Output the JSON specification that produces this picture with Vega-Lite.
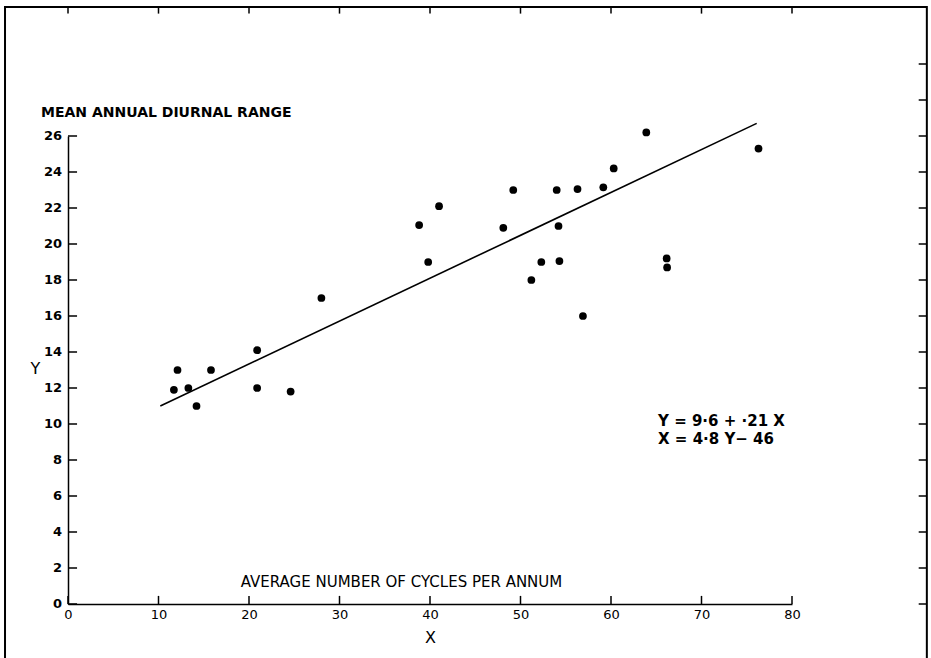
{
  "$schema": "https://vega.github.io/schema/vega-lite/v6.json",
  "width": 724,
  "height": 468,
  "autosize": {"type": "none"},
  "padding": {"left": 68, "top": 136, "right": 139, "bottom": 54},
  "background": "white",
  "config": {
    "view": {"stroke": null},
    "font": "DejaVu Sans",
    "axis": {"grid": false, "domainColor": "black", "tickColor": "black", "labelColor": "black", "titleColor": "black", "domainWidth": 1.5, "labelOverlap": false, "labelFlush": false}
  },
  "datasets": {
    "points": [
      {"x": 11.7, "y": 11.9},
      {"x": 12.1, "y": 13.0},
      {"x": 13.3, "y": 12.0},
      {"x": 14.2, "y": 11.0},
      {"x": 15.8, "y": 13.0},
      {"x": 20.9, "y": 14.1},
      {"x": 20.9, "y": 12.0},
      {"x": 24.6, "y": 11.8},
      {"x": 28.0, "y": 17.0},
      {"x": 38.8, "y": 21.05},
      {"x": 39.8, "y": 19.0},
      {"x": 41.0, "y": 22.1},
      {"x": 48.1, "y": 20.9},
      {"x": 49.2, "y": 23.0},
      {"x": 51.2, "y": 18.0},
      {"x": 52.3, "y": 19.0},
      {"x": 54.0, "y": 23.0},
      {"x": 54.2, "y": 21.0},
      {"x": 54.3, "y": 19.05},
      {"x": 56.3, "y": 23.05},
      {"x": 56.9, "y": 16.0},
      {"x": 59.15, "y": 23.15},
      {"x": 60.3, "y": 24.2},
      {"x": 63.9, "y": 26.2},
      {"x": 66.15, "y": 19.2},
      {"x": 66.2, "y": 18.7},
      {"x": 76.3, "y": 25.3}
    ],
    "fit": [
      {"x": 10.2, "y": 11.0},
      {"x": 76.1, "y": 26.7}
    ],
    "xticks": [
      {"t": 0}, {"t": 10}, {"t": 20}, {"t": 30}, {"t": 40}, {"t": 50}, {"t": 60}, {"t": 70}, {"t": 80}
    ],
    "yticks": [
      {"t": 0}, {"t": 2}, {"t": 4}, {"t": 6}, {"t": 8}, {"t": 10}, {"t": 12}, {"t": 14}, {"t": 16}, {"t": 18}, {"t": 20}, {"t": 22}, {"t": 24}, {"t": 26}
    ],
    "rightticks": [
      {"t": 0}, {"t": 2}, {"t": 4}, {"t": 6}, {"t": 8}, {"t": 10}, {"t": 12}, {"t": 14}, {"t": 16}, {"t": 18}, {"t": 20}, {"t": 22}, {"t": 24}, {"t": 26}, {"t": 28}, {"t": 30}
    ]
  },
  "layer": [
    {
      "data": {"name": "points"},
      "mark": {"type": "point", "filled": true, "shape": "circle", "size": 60, "color": "black", "opacity": 1},
      "encoding": {
        "x": {
          "field": "x", "type": "quantitative",
          "scale": {"domain": [0, 80], "nice": false, "zero": false},
          "axis": {
            "values": [0, 10, 20, 30, 40, 50, 60, 70, 80],
            "ticks": false,
            "labelOverlap": false,
            "labelFlush": false,
            "labelFontSize": 13,
            "labelPadding": 4,
            "title": "X",
            "titleFontSize": 16,
            "titleFontWeight": "normal",
            "titleX": 362,
            "titleY": 33,
            "titleBaseline": "middle"
          }
        },
        "y": {
          "field": "y", "type": "quantitative",
          "scale": {"domain": [0, 26], "nice": false, "zero": false},
          "axis": {
            "values": [0, 2, 4, 6, 8, 10, 12, 14, 16, 18, 20, 22, 24, 26],
            "ticks": false,
            "labels": false,
            "title": "Y",
            "titleFontSize": 16,
            "titleFontWeight": "normal",
            "titleAngle": 0,
            "titleX": -33,
            "titleY": 232,
            "titleAlign": "center",
            "titleBaseline": "middle"
          }
        }
      }
    },
    {
      "data": {"name": "fit"},
      "mark": {"type": "line", "color": "black", "strokeWidth": 1.6},
      "encoding": {
        "x": {"field": "x", "type": "quantitative", "scale": {"domain": [0, 80], "nice": false, "zero": false}},
        "y": {"field": "y", "type": "quantitative", "scale": {"domain": [0, 26], "nice": false, "zero": false}}
      }
    },
    {
      "data": {"name": "xticks"},
      "mark": {"type": "rule", "color": "black", "strokeWidth": 1.5},
      "encoding": {
        "x": {"field": "t", "type": "quantitative", "scale": {"domain": [0, 80], "nice": false, "zero": false}},
        "y": {"datum": 0, "type": "quantitative", "scale": {"domain": [0, 26], "nice": false, "zero": false}},
        "y2": {"datum": 0.45}
      }
    },
    {
      "data": {"name": "yticks"},
      "mark": {"type": "rule", "color": "black", "strokeWidth": 1.5},
      "encoding": {
        "y": {"field": "t", "type": "quantitative", "scale": {"domain": [0, 26], "nice": false, "zero": false}},
        "x": {"datum": 0, "type": "quantitative", "scale": {"domain": [0, 80], "nice": false, "zero": false}},
        "x2": {"datum": 1.0}
      }
    },
    {
      "data": {"name": "yticks"},
      "mark": {"type": "text", "align": "right", "baseline": "middle", "dx": -6, "fontSize": 13, "fontWeight": "bold", "color": "black"},
      "encoding": {
        "y": {"field": "t", "type": "quantitative", "scale": {"domain": [0, 26], "nice": false, "zero": false}},
        "x": {"datum": 0, "type": "quantitative", "scale": {"domain": [0, 80], "nice": false, "zero": false}},
        "text": {"field": "t", "type": "quantitative"}
      }
    },
    {
      "data": {"values": [{}]},
      "mark": {"type": "rect", "fill": null, "filled": false, "stroke": "black", "strokeWidth": 2},
      "encoding": {
        "x": {"datum": -6.96, "type": "quantitative", "scale": {"domain": [0, 80], "nice": false, "zero": false}},
        "x2": {"datum": 94.9},
        "y": {"datum": 33.17, "type": "quantitative", "scale": {"domain": [0, 26], "nice": false, "zero": false}},
        "y2": {"datum": -4}
      }
    },
    {
      "data": {"name": "xticks"},
      "mark": {"type": "rule", "color": "black", "strokeWidth": 1.5},
      "encoding": {
        "x": {"field": "t", "type": "quantitative", "scale": {"domain": [0, 80], "nice": false, "zero": false}},
        "y": {"datum": 33.17, "type": "quantitative", "scale": {"domain": [0, 26], "nice": false, "zero": false}},
        "y2": {"datum": 32.8}
      }
    },
    {
      "data": {"name": "rightticks"},
      "mark": {"type": "rule", "color": "black", "strokeWidth": 1.5},
      "encoding": {
        "y": {"field": "t", "type": "quantitative", "scale": {"domain": [0, 26], "nice": false, "zero": false}},
        "x": {"datum": 94.9, "type": "quantitative", "scale": {"domain": [0, 80], "nice": false, "zero": false}},
        "x2": {"datum": 94.0}
      }
    },
    {
      "data": {"values": [{}]},
      "mark": {"type": "text", "text": "MEAN  ANNUAL  DIURNAL RANGE", "align": "left", "baseline": "middle", "fontSize": 14, "fontWeight": "bold", "color": "black"},
      "encoding": {
        "x": {"datum": -2.98, "type": "quantitative", "scale": {"domain": [0, 80], "nice": false, "zero": false}},
        "y": {"datum": 27.28, "type": "quantitative", "scale": {"domain": [0, 26], "nice": false, "zero": false}}
      }
    },
    {
      "data": {"values": [{}]},
      "mark": {"type": "text", "text": "AVERAGE  NUMBER  OF  CYCLES  PER  ANNUM", "align": "center", "baseline": "middle", "fontSize": 15, "color": "black"},
      "encoding": {
        "x": {"datum": 36.85, "type": "quantitative", "scale": {"domain": [0, 80], "nice": false, "zero": false}},
        "y": {"datum": 1.22, "type": "quantitative", "scale": {"domain": [0, 26], "nice": false, "zero": false}}
      }
    },
    {
      "data": {"values": [{}]},
      "mark": {"type": "text", "text": ["Y  =  9·6  +  ·21 X", "X  =  4·8  Y−  46"], "align": "left", "baseline": "middle", "fontSize": 15, "fontWeight": "bold", "lineHeight": 18, "color": "black"},
      "encoding": {
        "x": {"datum": 65.2, "type": "quantitative", "scale": {"domain": [0, 80], "nice": false, "zero": false}},
        "y": {"datum": 10.18, "type": "quantitative", "scale": {"domain": [0, 26], "nice": false, "zero": false}}
      }
    }
  ]
}
